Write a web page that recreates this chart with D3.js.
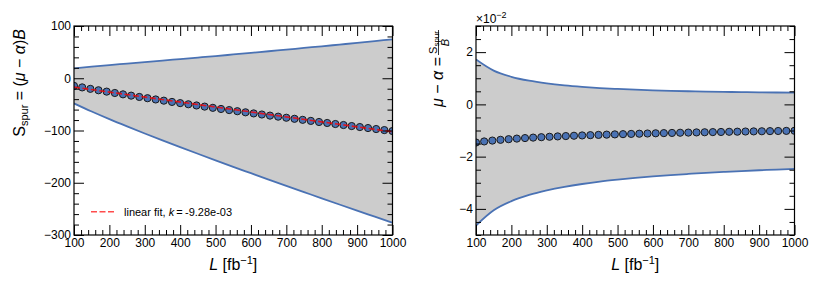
<!DOCTYPE html>
<html>
<head>
<meta charset="utf-8">
<script src="https://cdn.jsdelivr.net/npm/d3@7"></script>
<style>
body{margin:0;background:#fff}
text{font-family:"Liberation Sans",Arial,Helvetica,sans-serif}
</style>
</head>
<body>
<svg width="822" height="294"></svg>
<script>
// luminosity points (fb^-1)
var lumi = [100, 123.1, 146.2, 169.2, 192.3, 215.4, 238.5, 261.5, 284.6, 307.7,
            330.8, 353.8, 376.9, 400, 423.1, 446.2, 469.2, 492.3, 515.4, 538.5,
            561.5, 584.6, 607.7, 630.8, 653.8, 676.9, 700, 723.1, 746.2, 769.2,
            792.3, 815.4, 838.5, 861.5, 884.6, 907.7, 930.8, 953.8, 976.9, 1000];

// S_spur points (left panel)
var sSpur = [-14.6, -17.5, -20.3, -23.0, -25.6, -28.2, -30.8, -33.3, -35.8, -38.2,
             -40.6, -42.9, -45.3, -47.6, -49.8, -52.1, -54.3, -56.6, -58.8, -60.9,
             -63.1, -65.2, -67.3, -69.4, -71.5, -73.5, -75.6, -77.6, -79.6, -81.6,
             -83.7, -85.6, -87.6, -89.5, -91.5, -93.4, -95.3, -97.2, -99.2, -101.0];

// mu - alpha points, x 1e-2 (right panel)
var muAlpha = [-1.460, -1.419, -1.386, -1.357, -1.332, -1.310, -1.290, -1.272, -1.256, -1.240,
               -1.226, -1.213, -1.201, -1.189, -1.178, -1.168, -1.158, -1.149, -1.140, -1.131,
               -1.123, -1.115, -1.107, -1.100, -1.093, -1.086, -1.080, -1.073, -1.067, -1.061,
               -1.056, -1.050, -1.045, -1.039, -1.034, -1.029, -1.024, -1.019, -1.015, -1.010];

// uncertainty bands
var bandL = [100, 150, 200, 250, 300, 350, 400, 450, 500, 550, 600, 650, 700, 750, 800, 850, 900, 950, 1000];
var leftUp = [18.9, 22.2, 25.3, 28.1, 31.0, 33.8, 36.7, 39.6, 42.5, 45.5, 48.5, 51.7, 54.8, 58.0, 61.1, 64.4, 67.7, 71.1, 74.5];
var leftLo = [-48.1, -63.7, -78.3, -92.2, -105.7, -118.9, -131.8, -144.5, -157.1, -169.5, -181.7, -193.9, -206.0, -217.9, -229.8, -241.6, -253.3, -264.9, -276.5];
var rightUp = [1.718, 1.292, 1.056, 0.906, 0.803, 0.727, 0.670, 0.625, 0.590, 0.561, 0.538, 0.519, 0.503, 0.490, 0.478, 0.469, 0.460, 0.454, 0.448];
var rightLo = [-4.638, -4.054, -3.706, -3.468, -3.293, -3.157, -3.048, -2.957, -2.882, -2.815, -2.758, -2.707, -2.663, -2.622, -2.586, -2.553, -2.522, -2.494, -2.468];

// linear fit
var fitL = [100, 1000];
var fitS = [-17.0, -102.5];

// ticks
var xTicks = [100, 200, 300, 400, 500, 600, 700, 800, 900, 1000];
var leftYTicks = [-300, -200, -100, 0, 100];
var rightYTicks = [-4, -2, 0, 2];

var svg = d3.select("svg");
var plotTop = 26, plotBottom = 235;
var majorLen = 10, minorLen = 5;
var blue = "#4a72b4";

function panel(cfg){
    var x = d3.scaleLinear().domain([100, 1000]).range([cfg.left, cfg.right]);
    var y = d3.scaleLinear().domain(cfg.yDomain).range([plotBottom, plotTop]);
    var g = svg.append("g");

    g.append("clipPath").attr("id", cfg.id)
        .append("rect")
        .attr("x", cfg.left).attr("y", plotTop)
        .attr("width", cfg.right - cfg.left).attr("height", plotBottom - plotTop);

    var plot = g.append("g").attr("clip-path", "url(#" + cfg.id + ")");
    var idx = d3.range(bandL.length);

    plot.append("path")
        .datum(idx)
        .attr("fill", "#cccccc")
        .attr("d", d3.area()
            .x(function(i){ return x(bandL[i]); })
            .y0(function(i){ return y(cfg.lo[i]); })
            .y1(function(i){ return y(cfg.up[i]); })
            .curve(d3.curveMonotoneX));

    [cfg.up, cfg.lo].forEach(function(arr){
        plot.append("path")
            .datum(idx)
            .attr("fill", "none")
            .attr("stroke", blue)
            .attr("stroke-width", 1.8)
            .attr("d", d3.line()
                .x(function(i){ return x(bandL[i]); })
                .y(function(i){ return y(arr[i]); })
                .curve(d3.curveMonotoneX));
    });

    plot.selectAll("circle")
        .data(d3.range(lumi.length))
        .enter().append("circle")
        .attr("cx", function(i){ return x(lumi[i]); })
        .attr("cy", function(i){ return y(cfg.pts[i]); })
        .attr("r", 3.6)
        .attr("fill", blue)
        .attr("stroke", "#1a1a1a")
        .attr("stroke-width", 1);

    if(cfg.fit){
        plot.append("path")
            .datum(d3.range(fitL.length))
            .attr("fill", "none")
            .attr("stroke", "#ff0000")
            .attr("stroke-opacity", 0.8)
            .attr("stroke-width", 1.6)
            .attr("stroke-dasharray", "6,2.5")
            .attr("d", d3.line()
                .x(function(i){ return x(fitL[i]); })
                .y(function(i){ return y(fitS[i]); }));
    }

    // axes, ticks pointing inwards
    var xMinor = d3.range(100, 1001, 20).filter(function(v){ return v % 100 != 0; });
    var yMinor = d3.range(cfg.yDomain[0], cfg.yDomain[1] + 1e-9, cfg.yMinorStep)
        .filter(function(v){ return cfg.yTicks.indexOf(+v.toFixed(6)) < 0; });

    var axes = [
        g.append("g").attr("transform", "translate(0," + plotBottom + ")")
            .call(d3.axisBottom(x).tickValues(xTicks).tickSizeInner(-majorLen).tickSizeOuter(0).tickPadding(3).tickFormat(d3.format("d"))),
        g.append("g").attr("transform", "translate(0," + plotBottom + ")")
            .call(d3.axisBottom(x).tickValues(xMinor).tickSize(-minorLen).tickFormat("")),
        g.append("g").attr("transform", "translate(0," + plotTop + ")")
            .call(d3.axisTop(x).tickValues(xTicks).tickSize(-majorLen).tickFormat("")),
        g.append("g").attr("transform", "translate(0," + plotTop + ")")
            .call(d3.axisTop(x).tickValues(xMinor).tickSize(-minorLen).tickFormat("")),
        g.append("g").attr("transform", "translate(" + cfg.left + ",0)")
            .call(d3.axisLeft(y).tickValues(cfg.yTicks).tickSizeInner(-majorLen).tickSizeOuter(0).tickPadding(3).tickFormat(d3.format("d"))),
        g.append("g").attr("transform", "translate(" + cfg.left + ",0)")
            .call(d3.axisLeft(y).tickValues(yMinor).tickSize(-minorLen).tickFormat("")),
        g.append("g").attr("transform", "translate(" + cfg.right + ",0)")
            .call(d3.axisRight(y).tickValues(cfg.yTicks).tickSize(-majorLen).tickFormat("")),
        g.append("g").attr("transform", "translate(" + cfg.right + ",0)")
            .call(d3.axisRight(y).tickValues(yMinor).tickSize(-minorLen).tickFormat(""))
    ];
    axes.forEach(function(a){
        a.select(".domain").remove();
        a.selectAll("line").attr("stroke", "#000").attr("stroke-width", 1);
        a.selectAll("text").attr("font-size", 12).attr("fill", "#000")
            .attr("font-family", "'Liberation Sans', Arial, sans-serif");
    });

    g.append("rect")
        .attr("x", cfg.left).attr("y", plotTop)
        .attr("width", cfg.right - cfg.left).attr("height", plotBottom - plotTop)
        .attr("fill", "none").attr("stroke", "#000").attr("stroke-width", 1.2);

    // x label
    var xl = g.append("text")
        .attr("x", (cfg.left + cfg.right) / 2).attr("y", 270)
        .attr("text-anchor", "middle").attr("font-size", 16);
    xl.append("tspan").attr("font-style", "italic").text("L");
    xl.append("tspan").text(" [fb");
    xl.append("tspan").attr("font-size", 11).attr("dy", -6).text("\u22121");
    xl.append("tspan").attr("dy", 6).text("]");

    return {x: x, y: y, g: g};
}

var p1 = panel({id: "c1", left: 74, right: 392.5, yDomain: [-300, 100], yMinorStep: 20,
    yTicks: leftYTicks, up: leftUp, lo: leftLo, pts: sSpur, fit: true});
var p2 = panel({id: "c2", left: 476, right: 794.5, yDomain: [-5, 3], yMinorStep: 0.5,
    yTicks: rightYTicks, up: rightUp, lo: rightLo, pts: muAlpha, fit: false});

// left y label
var yl = svg.append("text")
    .attr("transform", "translate(25,29) rotate(-90)")
    .attr("text-anchor", "end").attr("font-size", 16);
yl.append("tspan").text("S");
yl.append("tspan").attr("font-size", 11).attr("dy", 3).text("spur");
yl.append("tspan").attr("dy", -3).text(" = (");
yl.append("tspan").attr("font-style", "italic").text("\u03bc");
yl.append("tspan").text(" \u2212 ");
yl.append("tspan").attr("font-style", "italic").text("\u03b1");
yl.append("tspan").text(")");
yl.append("tspan").attr("font-style", "italic").text("B");

// right y label with fraction
var yr = svg.append("g").attr("transform", "translate(443,29) rotate(-90)");
var main = yr.append("text").attr("x", -28).attr("y", 0)
    .attr("text-anchor", "end").attr("font-size", 16);
main.append("tspan").attr("font-style", "italic").text("\u03bc");
main.append("tspan").text(" \u2212 ");
main.append("tspan").attr("font-style", "italic").text("\u03b1");
main.append("tspan").text(" =");
yr.append("line").attr("x1", -26).attr("x2", -1).attr("y1", -4.5).attr("y2", -4.5)
    .attr("stroke", "#000").attr("stroke-width", 0.8);
var num = yr.append("text").attr("x", -13.5).attr("y", -6.5)
    .attr("text-anchor", "middle").attr("font-size", 11);
num.append("tspan").text("S");
num.append("tspan").attr("font-size", 8).attr("dy", 2).text("spur");
yr.append("text").attr("x", -13.5).attr("y", 5.5)
    .attr("text-anchor", "middle").attr("font-size", 11).attr("font-style", "italic").text("B");

// multiplier
var mult = svg.append("text").attr("x", 476).attr("y", 23).attr("font-size", 12);
mult.append("tspan").text("\u00d710");
mult.append("tspan").attr("font-size", 9).attr("dy", -5).text("\u22122");

// legend
var lg = svg.append("g");
lg.append("line").attr("x1", 91).attr("x2", 114).attr("y1", 211.7).attr("y2", 211.7)
    .attr("stroke", "#ff0000").attr("stroke-opacity", 0.7)
    .attr("stroke-width", 1.6).attr("stroke-dasharray", "6,2.5");
var lt = lg.append("text").attr("x", 124).attr("y", 215.5).attr("font-size", 11);
lt.append("tspan").text("linear fit, ");
lt.append("tspan").attr("font-style", "italic").text("k");
lt.append("tspan").text("\u2009=\u2009-9.28e-03");
</script>
</body>
</html>
